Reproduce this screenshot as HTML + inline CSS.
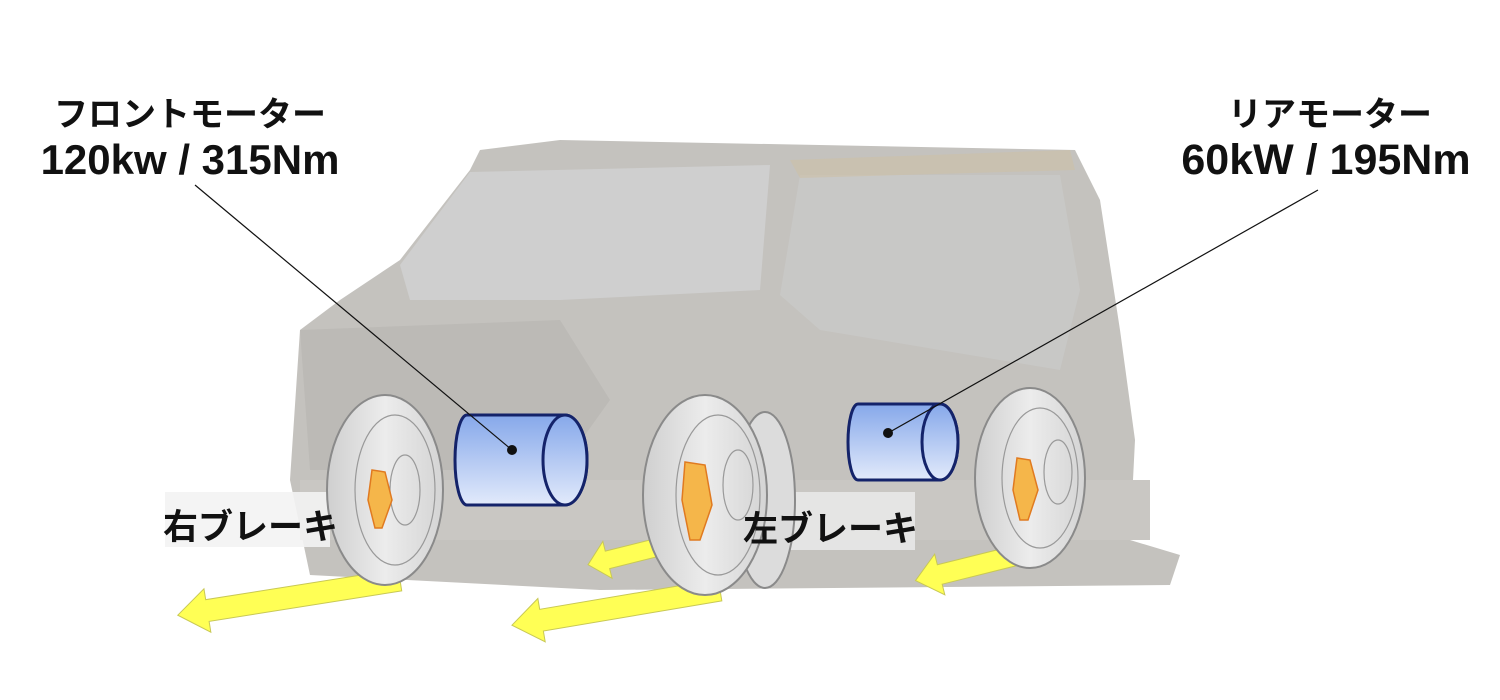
<!DOCTYPE html>
<html><head><meta charset="utf-8"><style>
html,body{margin:0;padding:0;background:#fff;width:1500px;height:700px;overflow:hidden}
svg{display:block}
text{font-family:"Liberation Sans","Noto Sans CJK JP",sans-serif;font-weight:bold;fill:#111}
</style></head><body>
<svg width="1500" height="700" viewBox="0 0 1500 700">
<defs>
<linearGradient id="mg" x1="0" y1="0" x2="0" y2="1"><stop offset="0" stop-color="#86a8ea"/><stop offset="1" stop-color="#e2eafb"/></linearGradient>
<linearGradient id="tg" x1="0" y1="0" x2="1" y2="0"><stop offset="0" stop-color="#cfcfcf"/><stop offset="0.5" stop-color="#ececec"/><stop offset="1" stop-color="#d4d4d4"/></linearGradient>
<polygon id="ar" points="0,-11 -0,11 0,11"/>
</defs>
<!-- car body -->
<path d="M480,150 L560,140 L1075,150 L1100,200 L1120,330 L1135,440 L1130,540 L1180,555 L1170,585 L600,590 L310,575 L290,480 L300,330 L340,300 L400,260 L470,170 Z" fill="#c4c2be"/>
<path d="M470,172 L770,165 L760,290 L560,300 L410,300 L400,265 Z" fill="#cfcfcf"/>
<path d="M800,175 L1060,175 L1080,290 L1060,370 L820,330 L780,295 Z" fill="#c8c8c6"/>
<path d="M790,160 L1070,150 L1075,170 L800,178 Z" fill="#cdbfa6" opacity="0.6"/>
<path d="M300,330 L560,320 L610,400 L560,470 L310,470 Z" fill="#bcbab6"/>
<rect x="300" y="480" width="850" height="60" fill="#c9c7c3"/>
<!-- label backgrounds -->
<rect x="165" y="492" width="165" height="55" fill="#f3f3f3" opacity="0.9"/>
<rect x="730" y="492" width="185" height="58" fill="#e8e8e8" opacity="0.9"/>
<!-- arrows -->
<g fill="#ffff55" stroke="#c8c855" stroke-width="1">
<polygon transform="translate(400,580) rotate(171)" points="0,-11 195,-11 195,-22 225,0 195,22 195,11 0,11"/>
<polygon transform="translate(720,590) rotate(170.4)" points="0,-11 181,-11 181,-22 211,0 181,22 181,11 0,11"/>
<polygon transform="translate(655,548) rotate(166)" points="0,-9 49,-9 49,-19 69,0 49,19 49,9 0,9"/>
<polygon transform="translate(1030,552) rotate(166)" points="0,-10 93,-10 93,-21 118,0 93,21 93,10 0,10"/>
</g>
<!-- wheels -->
<g stroke="#8a8a8a" stroke-width="2">
<ellipse cx="765" cy="500" rx="30" ry="88" fill="#dcdcdc"/>
<ellipse cx="385" cy="490" rx="58" ry="95" fill="url(#tg)"/>
<ellipse cx="705" cy="495" rx="62" ry="100" fill="url(#tg)"/>
<ellipse cx="1030" cy="478" rx="55" ry="90" fill="url(#tg)"/>
</g>
<g stroke="#999" stroke-width="1.2" fill="none">
<ellipse cx="395" cy="490" rx="40" ry="75"/><ellipse cx="405" cy="490" rx="15" ry="35"/>
<ellipse cx="718" cy="495" rx="42" ry="80"/><ellipse cx="738" cy="485" rx="15" ry="35"/>
<ellipse cx="1040" cy="478" rx="38" ry="70"/><ellipse cx="1058" cy="472" rx="14" ry="32"/>
</g>
<g fill="#f5b64a" stroke="#e07a20" stroke-width="1.5">
<path d="M372,470 L385,472 L392,500 L382,528 L375,528 L368,500 Z"/>
<path d="M685,462 L705,465 L712,505 L700,540 L690,540 L682,500 Z"/>
<path d="M1017,458 L1030,460 L1038,490 L1028,520 L1020,520 L1013,490 Z"/>
</g>
<!-- motors -->
<g stroke="#14236a" stroke-width="3">
<path d="M467,415 L565,415 A22,45 0 0 1 565,505 L467,505 A12,45 0 0 1 467,415 Z" fill="url(#mg)"/>
<ellipse cx="565" cy="460" rx="22" ry="45" fill="url(#mg)"/>
<path d="M858,404 L940,404 A18,38 0 0 1 940,480 L858,480 A10,38 0 0 1 858,404 Z" fill="url(#mg)"/>
<ellipse cx="940" cy="442" rx="18" ry="38" fill="url(#mg)"/>
</g>
<!-- leader lines -->
<line x1="195" y1="185" x2="512" y2="450" stroke="#111" stroke-width="1.2"/>
<circle cx="512" cy="450" r="5" fill="#111"/>
<line x1="1318" y1="190" x2="888" y2="433" stroke="#111" stroke-width="1.2"/>
<circle cx="888" cy="433" r="5" fill="#111"/>
<!-- text -->
<text x="190" y="126" font-size="34" text-anchor="middle">フロントモーター</text>
<text x="190" y="174" font-size="42" text-anchor="middle">120kw / 315Nm</text>
<text x="1330" y="126" font-size="34" text-anchor="middle">リアモーター</text>
<text x="1326" y="174" font-size="43" text-anchor="middle">60kW / 195Nm</text>
<text x="163" y="539" font-size="35">右ブレーキ</text>
<text x="743" y="541" font-size="35">左ブレーキ</text>
</svg>
</body></html>
